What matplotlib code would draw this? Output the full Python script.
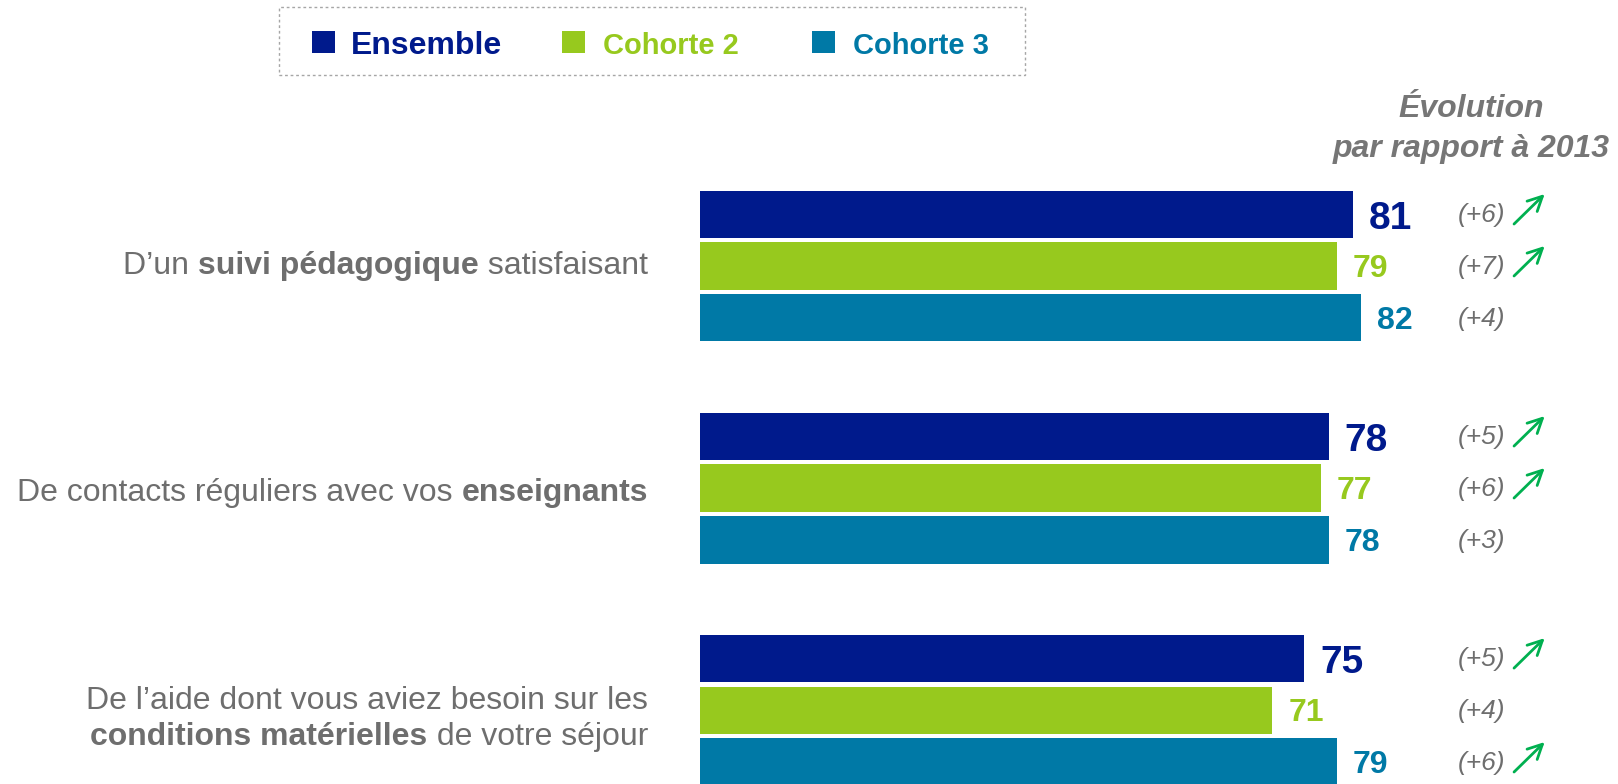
import matplotlib
matplotlib.use('Agg')
import matplotlib.pyplot as plt
import matplotlib.transforms as mtransforms
from matplotlib.patches import Rectangle
import numpy as np

# ---------------- data ----------------
categories = [
    [[("D’un ", 'normal'), ("suivi pédagogique", 'bold'), (" satisfaisant", 'normal')]],
    [[("De contacts réguliers avec vos ", 'normal'), ("enseignants", 'bold')]],
    [[("De l’aide dont vous aviez besoin sur les", 'normal')],
     [("conditions matérielles", 'bold'), (" de votre séjour", 'normal')]],
]
series_names = ["Ensemble", "Cohorte 2", "Cohorte 3"]
ensemble = [81, 78, 75]
cohorte2 = [79, 77, 71]
cohorte3 = [82, 78, 79]
evol_ensemble = [6, 5, 5]
evol_cohorte2 = [7, 6, 4]
evol_cohorte3 = [4, 3, 6]
signif_ensemble = [True, True, True]
signif_cohorte2 = [True, True, False]
signif_cohorte3 = [False, False, True]
header = "Évolution\npar rapport à 2013"

# ---------------- style ----------------
plt.rcParams['font.family'] = ['Liberation Sans', 'DejaVu Sans']
C_ENS = '#001A8C'
C_C2 = '#97C91E'
C_C3 = '#0079A6'
GRAY = '#6E6E6E'
ARROW = '#00B050'

W, H = 1618, 784
PX = 1 / 222.0  # one pixel in y data units
fig = plt.figure(figsize=(W / 100, H / 100), dpi=100)
ax = fig.add_axes([0, 0, 1, 1])
ax.set_xlim(-86.85, 113.9)
ax.set_ylim(2.333, -1.198)
ax.axis('off')

group_y = np.arange(len(categories))
offset = 0.234
bar_h = 0.212

series = [
    (ensemble, evol_ensemble, signif_ensemble, C_ENS, 28, 5),
    (cohorte2, evol_cohorte2, signif_cohorte2, C_C2, 23, 3),
    (cohorte3, evol_cohorte3, signif_cohorte3, C_C3, 23, 3),
]

for k, (vals, evs, sigs, color, fs, dy) in enumerate(series):
    y = group_y + (k - 1) * offset
    ax.barh(y, vals, height=bar_h, color=color, left=0)
    for yi, v, e, s in zip(y, vals, evs, sigs):
        ax.text(v + 2, yi + dy * PX, f"{v}", color=color, fontsize=fs, fontweight='bold',
                ha='left', va='center')
        ax.text(94.0, yi + 1 * PX, f"(+{e})", color=GRAY, fontsize=19, style='italic',
                ha='left', va='center')
        if s:
            ax.annotate('', xy=(104.8, yi - 0.09), xytext=(101.0, yi + 0.045),
                        arrowprops=dict(arrowstyle='->', color=ARROW, lw=2,
                                        mutation_scale=26, shrinkA=0, shrinkB=0))

# ---------------- rich category labels ----------------
renderer = fig.canvas.get_renderer()


def seg_width(txt, weight, fs):
    t1 = ax.text(0, 0, "|" + txt + "|", fontsize=fs, fontweight=weight)
    t2 = ax.text(0, 0, "||", fontsize=fs, fontweight=weight)
    w = t1.get_window_extent(renderer).width - t2.get_window_extent(renderer).width
    t1.remove()
    t2.remove()
    return w


def rich_line(x, y, segments, fs, color):
    widths = [seg_width(t, w, fs) for t, w in segments]
    cur = -sum(widths)
    for (t, w), wd in zip(segments, widths):
        tr = mtransforms.offset_copy(ax.transData, fig=fig, x=cur, y=0, units='dots')
        ax.text(x, y, t, transform=tr, fontsize=fs, fontweight=w, color=color,
                ha='left', va='center')
        cur += wd


CAT_FS = 23
line_gap = 36 * PX
label_dy = [0, 5, 9]
for gi, lines in enumerate(categories):
    n = len(lines)
    for li, segs in enumerate(lines):
        yy = group_y[gi] + label_dy[gi] * PX + (li - (n - 1) / 2) * line_gap
        rich_line(-6.45, yy, segs, CAT_FS, GRAY)

# ---------------- header ----------------
fig.text(1471 / W, 1 - 129 / H, header, ha='center', va='center', fontsize=23,
         fontweight='bold', style='italic', color='#767676', linespacing=1.4)

# ---------------- legend ----------------
fig.add_artist(Rectangle((279 / W, 1 - 75 / H), (1025 - 279) / W, 68 / H,
                         transform=fig.transFigure, fill=False,
                         edgecolor='#A6A6A6', linestyle=(0, (2, 2)), lw=1))
leg_sq_x = [312, 562, 812]
leg_txt_x = [351, 603, 853]
leg_fs = [23, 21, 21]
for name, color, sx, tx, lfs in zip(series_names, [C_ENS, C_C2, C_C3], leg_sq_x,
                                    leg_txt_x, leg_fs):
    fig.add_artist(Rectangle((sx / W, 1 - 53 / H), 23 / W, 22 / H,
                             transform=fig.transFigure, facecolor=color, edgecolor='none'))
    fig.text(tx / W, 1 - 46 / H, name, ha='left', va='center', fontsize=lfs,
             fontweight='bold', color=color)

fig.savefig('out.png', dpi=100)
